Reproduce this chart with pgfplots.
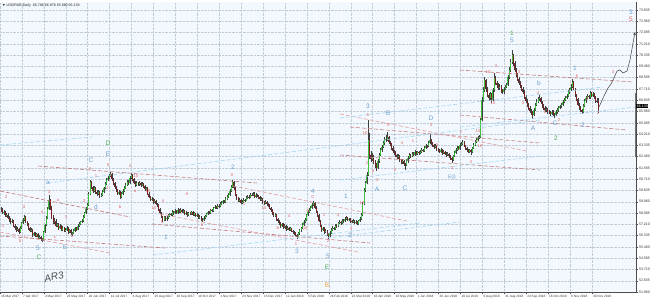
\documentclass[border=0pt]{standalone}
\usepackage{fontspec}
\setmainfont{Liberation Sans}
\usepackage{pgfplots}
\usepackage{pgfplotstable}
\pgfplotsset{compat=1.18}
\usetikzlibrary{arrows.meta}
\definecolor{bg}{HTML}{F2F8FD}
\definecolor{gridc}{HTML}{C2CCD6}
\definecolor{upc}{HTML}{3DBE3D}
\definecolor{dnc}{HTML}{7E1F1F}
\definecolor{wickc}{HTML}{404040}
\definecolor{pinkl}{HTML}{E3A0A0}
\definecolor{pinkd}{HTML}{C47C7C}
\definecolor{bluel}{HTML}{A8D6F2}
\definecolor{lblue}{HTML}{6F9FCC}
\definecolor{lgreen}{HTML}{4CAF50}
\definecolor{lorange}{HTML}{F0A030}
\definecolor{lred}{HTML}{E06060}
\pgfplotstableread{
o h l c
58.40 58.55 58.15 58.32
58.32 58.45 57.98 58.10
58.10 58.30 57.95 58.18
58.18 58.28 57.80 57.90
57.90 58.10 57.78 57.95
57.95 58.05 57.60 57.70
57.70 57.85 57.40 57.55
57.55 57.68 57.25 57.40
57.40 57.62 57.30 57.48
57.48 57.55 57.00 57.10
57.10 57.20 56.80 56.93
56.93 57.05 56.65 56.80
56.80 57.00 56.70 56.85
56.85 56.95 56.48 56.61
56.61 57.05 56.55 56.95
56.95 57.40 56.88 57.30
57.30 57.70 57.20 57.55
57.55 57.95 57.45 57.78
57.78 57.85 57.30 57.40
57.40 57.50 57.05 57.20
57.20 57.28 56.80 56.93
56.93 57.00 56.58 56.70
56.70 56.90 56.60 56.75
56.75 56.82 56.25 56.38
56.38 56.62 56.28 56.50
56.50 56.58 56.20 56.30
56.30 56.55 56.22 56.45
56.45 56.52 56.10 56.20
56.20 56.35 56.08 56.23
56.23 56.30 55.95 56.10
56.10 56.18 55.85 56.00
56.00 56.70 55.95 56.60
56.60 57.25 56.50 57.16
57.16 57.85 57.05 57.70
57.70 58.55 57.60 58.40
58.40 59.45 58.30 59.10
59.10 59.20 58.35 58.50
58.50 58.60 57.65 57.80
57.80 57.95 57.25 57.39
57.39 57.70 57.25 57.50
57.50 57.60 57.00 57.10
57.10 57.35 56.98 57.20
57.20 57.28 56.80 56.93
56.93 57.20 56.85 57.05
57.05 57.12 56.68 56.80
56.80 57.10 56.70 56.95
56.95 57.02 56.58 56.70
56.70 56.90 56.60 56.77
56.77 57.05 56.68 56.90
56.90 56.98 56.48 56.60
56.60 56.88 56.50 56.75
56.75 56.82 56.35 56.50
56.50 56.65 56.30 56.54
56.54 56.85 56.45 56.70
56.70 57.00 56.62 56.90
56.90 57.02 56.70 56.80
56.80 57.20 56.75 57.10
57.10 57.40 57.02 57.25
57.25 57.50 57.15 57.39
57.39 57.65 57.30 57.50
57.50 57.92 57.42 57.80
57.80 58.18 57.70 58.05
58.05 58.55 57.98 58.40
58.40 58.85 58.30 58.71
58.71 59.75 58.65 59.60
59.60 60.65 59.50 60.49
60.49 60.60 59.95 60.10
60.10 60.20 59.65 59.80
59.80 60.15 59.70 60.00
60.00 60.08 59.55 59.72
59.72 59.85 59.40 59.55
59.55 59.90 59.45 59.75
59.75 59.82 59.28 59.40
59.40 59.62 59.30 59.48
59.48 59.85 59.40 59.70
59.70 60.12 59.62 60.00
60.00 60.50 59.92 60.35
60.35 60.80 60.25 60.65
60.65 60.95 60.55 60.80
60.80 61.10 60.70 60.95
60.95 61.30 60.85 61.11
61.11 61.20 60.60 60.70
60.70 60.80 60.28 60.40
60.40 60.50 59.98 60.10
60.10 60.18 59.72 59.87
59.87 59.95 59.48 59.60
59.60 59.85 59.50 59.70
59.70 59.78 59.20 59.33
59.33 59.68 59.25 59.55
59.55 59.92 59.45 59.80
59.80 60.18 59.72 60.05
60.05 60.40 59.95 60.26
60.26 60.65 60.15 60.50
60.50 60.62 60.28 60.40
60.40 60.92 60.32 60.80
60.80 61.20 60.72 61.04
61.04 61.10 60.58 60.70
60.70 60.80 60.32 60.45
60.45 60.55 60.12 60.26
60.26 60.55 60.15 60.40
60.40 60.50 60.18 60.30
60.30 60.58 60.20 60.45
60.45 60.52 60.12 60.25
60.25 60.48 60.15 60.35
60.35 60.42 60.05 60.18
60.18 60.25 59.82 59.95
59.95 60.12 59.85 60.00
60.00 60.08 59.48 59.60
59.60 59.70 59.22 59.35
59.35 59.42 58.98 59.10
59.10 59.35 59.00 59.20
59.20 59.28 58.82 58.95
58.95 59.18 58.85 59.05
59.05 59.12 58.68 58.80
58.80 58.90 58.58 58.71
58.71 58.78 58.28 58.40
58.40 58.50 57.98 58.10
58.10 58.18 57.68 57.80
57.80 57.88 57.38 57.55
57.55 57.88 57.45 57.75
57.75 57.85 57.48 57.60
57.60 57.82 57.50 57.70
57.70 57.98 57.62 57.85
57.85 58.12 57.78 58.00
58.00 58.10 57.85 57.95
57.95 58.30 57.88 58.17
58.17 58.25 57.95 58.05
58.05 58.38 57.98 58.25
58.25 58.32 58.00 58.10
58.10 58.48 58.02 58.35
58.35 58.42 58.10 58.20
58.20 58.45 58.12 58.32
58.32 58.40 58.05 58.15
58.15 58.38 58.08 58.25
58.25 58.30 57.90 58.00
58.00 58.22 57.92 58.10
58.10 58.15 57.80 57.90
57.90 58.18 57.82 58.05
58.05 58.15 57.92 58.01
58.01 58.28 57.95 58.15
58.15 58.22 57.85 57.95
57.95 58.18 57.88 58.05
58.05 58.10 57.75 57.85
57.85 58.05 57.78 57.93
57.93 58.00 57.65 57.75
57.75 57.92 57.65 57.80
57.80 57.85 57.50 57.60
57.60 57.70 57.42 57.55
57.55 57.82 57.48 57.70
57.70 57.95 57.62 57.85
57.85 58.12 57.78 58.00
58.00 58.28 57.92 58.17
58.17 58.25 58.00 58.10
58.10 58.42 58.02 58.30
58.30 58.40 58.15 58.25
58.25 58.55 58.18 58.45
58.45 58.68 58.38 58.55
58.55 58.65 58.40 58.50
58.50 58.78 58.42 58.65
58.65 58.75 58.50 58.60
58.60 58.92 58.52 58.80
58.80 59.00 58.72 58.86
58.86 59.12 58.78 59.00
59.00 59.10 58.85 58.95
58.95 59.32 58.88 59.20
59.20 59.45 59.12 59.30
59.30 59.62 59.22 59.48
59.48 59.95 59.40 59.80
59.80 60.25 59.72 60.10
60.10 60.65 60.00 60.49
60.49 60.55 59.88 60.00
60.00 60.08 59.38 59.50
59.50 59.60 59.12 59.25
59.25 59.35 58.92 59.05
59.05 59.25 58.95 59.10
59.10 59.18 58.75 58.86
58.86 59.08 58.78 58.95
58.95 59.22 58.88 59.10
59.10 59.20 58.95 59.05
59.05 59.38 58.98 59.25
59.25 59.48 59.18 59.35
59.35 59.45 59.20 59.30
59.30 59.62 59.22 59.50
59.50 59.62 59.38 59.48
59.48 59.72 59.40 59.60
59.60 59.68 59.25 59.35
59.35 59.62 59.28 59.50
59.50 59.58 59.30 59.41
59.41 59.50 59.18 59.30
59.30 59.38 59.05 59.15
59.15 59.32 59.05 59.20
59.20 59.28 58.82 58.94
58.94 59.02 58.72 58.85
58.85 59.08 58.75 58.95
58.95 59.02 58.62 58.75
58.75 58.85 58.58 58.71
58.71 58.78 58.38 58.50
58.50 58.58 58.18 58.30
58.30 58.38 57.95 58.09
58.09 58.18 57.78 57.90
57.90 58.08 57.80 57.95
57.95 58.02 57.48 57.60
57.60 57.70 57.32 57.45
57.45 57.55 57.18 57.30
57.30 57.38 56.95 57.08
57.08 57.35 56.98 57.20
57.20 57.28 56.88 57.00
57.00 57.22 56.90 57.10
57.10 57.15 56.72 56.85
56.85 57.05 56.75 56.93
56.93 57.00 56.68 56.80
56.80 57.02 56.70 56.90
56.90 56.95 56.58 56.70
56.70 56.78 56.48 56.61
56.61 56.70 56.38 56.50
56.50 56.58 56.28 56.40
56.40 56.48 56.05 56.23
56.23 56.62 56.15 56.50
56.50 56.88 56.42 56.75
56.75 57.02 56.65 56.90
56.90 57.30 56.82 57.16
57.16 57.52 57.08 57.40
57.40 57.70 57.30 57.55
57.55 58.02 57.48 57.90
57.90 58.30 57.82 58.17
58.17 58.48 58.08 58.35
58.35 58.65 58.25 58.50
58.50 58.85 58.42 58.70
58.70 59.05 58.60 58.86
58.86 58.95 58.40 58.50
58.50 58.60 58.08 58.20
58.20 58.28 57.80 57.93
57.93 58.00 57.38 57.50
57.50 57.58 56.98 57.10
57.10 57.18 56.65 56.77
56.77 57.02 56.68 56.90
56.90 56.98 56.48 56.60
56.60 56.82 56.50 56.70
56.70 56.78 56.32 56.45
56.45 56.52 56.10 56.30
56.30 56.68 56.22 56.55
56.55 56.92 56.48 56.80
56.80 57.05 56.70 56.93
56.93 57.02 56.75 56.85
56.85 57.22 56.78 57.10
57.10 57.20 56.95 57.05
57.05 57.42 56.98 57.30
57.30 57.52 57.22 57.39
57.39 57.48 57.18 57.30
57.30 57.62 57.22 57.50
57.50 57.60 57.35 57.45
57.45 57.78 57.38 57.65
57.65 57.85 57.55 57.70
57.70 57.78 57.45 57.55
57.55 57.72 57.45 57.60
57.60 57.68 57.35 57.45
57.45 57.55 57.28 57.39
57.39 57.62 57.30 57.50
57.50 57.58 57.20 57.30
57.30 57.52 57.22 57.40
57.40 57.48 57.12 57.23
57.23 57.58 57.15 57.45
57.45 57.75 57.38 57.60
57.60 58.05 57.52 57.93
57.93 58.95 57.85 58.80
58.80 60.05 58.70 59.87
59.87 60.60 59.75 60.40
60.40 61.25 60.30 61.04
61.04 65.30 60.95 63.75
63.75 64.30 62.30 62.59
62.59 62.90 62.05 62.30
62.30 62.75 62.10 62.45
62.45 62.60 61.85 62.04
62.04 62.20 61.60 61.80
61.80 61.95 61.35 61.58
61.58 62.25 61.50 62.10
62.10 62.75 62.00 62.60
62.60 63.15 62.50 62.97
62.97 63.40 62.85 63.20
63.20 63.70 63.10 63.50
63.50 63.95 63.40 63.75
63.75 64.10 63.60 63.85
63.85 64.40 63.70 63.98
63.98 64.05 63.45 63.60
63.60 63.70 63.25 63.40
63.40 63.50 62.95 63.13
63.13 63.25 62.75 62.90
62.90 63.00 62.58 62.75
62.75 62.88 62.40 62.59
62.59 62.70 62.25 62.40
62.40 62.68 62.28 62.50
62.50 62.58 62.05 62.20
62.20 62.30 61.90 62.05
62.05 62.30 61.92 62.15
62.15 62.22 61.70 61.90
61.90 62.00 61.45 61.81
61.81 62.25 61.72 62.10
62.10 62.50 62.00 62.35
62.35 62.72 62.25 62.59
62.59 62.70 62.38 62.50
62.50 62.85 62.42 62.70
62.70 62.80 62.48 62.60
62.60 62.95 62.52 62.82
62.82 62.90 62.55 62.65
62.65 62.92 62.55 62.80
62.80 62.90 62.62 62.74
62.74 63.00 62.65 62.85
62.85 63.12 62.78 63.00
63.00 63.08 62.80 62.90
62.90 63.25 62.82 63.13
63.13 63.45 63.05 63.30
63.30 63.40 63.12 63.25
63.25 63.70 63.18 63.55
63.55 64.20 63.45 63.75
63.75 63.85 63.40 63.50
63.50 63.60 63.20 63.36
63.36 63.45 63.08 63.20
63.20 63.42 63.10 63.30
63.30 63.38 62.92 63.05
63.05 63.15 62.85 62.97
62.97 63.05 62.72 62.85
62.85 63.12 62.75 63.00
63.00 63.08 62.62 62.75
62.75 62.95 62.65 62.82
62.82 62.90 62.58 62.70
62.70 62.80 62.45 62.60
62.60 62.85 62.50 62.70
62.70 62.78 62.38 62.51
62.51 62.60 62.20 62.35
62.35 62.45 61.95 62.20
62.20 62.62 62.10 62.50
62.50 62.88 62.42 62.75
62.75 63.10 62.68 62.97
62.97 63.30 62.88 63.15
63.15 63.25 62.95 63.05
63.05 63.50 62.98 63.36
63.36 63.60 63.28 63.45
63.45 63.75 63.38 63.59
63.59 63.65 63.20 63.30
63.30 63.38 62.98 63.10
63.10 63.18 62.85 62.97
62.97 63.05 62.72 62.85
62.85 63.08 62.75 62.95
62.95 63.02 62.60 62.82
62.82 63.22 62.75 63.10
63.10 63.48 63.02 63.35
63.35 63.72 63.28 63.59
63.59 63.90 63.50 63.75
63.75 64.05 63.65 63.91
63.91 64.10 63.80 63.95
63.95 65.45 63.90 65.30
65.30 67.10 65.20 66.85
66.85 67.85 66.70 67.60
67.60 68.60 67.45 68.41
68.41 68.50 67.50 67.70
67.70 67.85 67.05 67.24
67.24 67.40 66.80 67.00
67.00 67.50 66.88 67.30
67.30 67.40 66.65 66.85
66.85 67.75 66.75 67.60
67.60 68.95 67.50 68.56
68.56 68.70 68.00 68.20
68.20 68.35 67.80 68.02
68.02 68.15 67.60 67.80
67.80 68.08 67.65 67.90
67.90 68.00 67.40 67.55
67.55 67.70 67.30 67.47
67.47 67.85 67.35 67.70
67.70 68.00 67.60 67.85
67.85 68.20 67.75 68.02
68.02 68.80 67.95 68.60
68.60 69.40 68.50 69.18
69.18 70.00 69.05 69.80
69.80 70.70 69.65 70.34
70.34 70.45 69.50 69.70
69.70 69.85 69.00 69.18
69.18 69.30 68.60 68.80
68.80 68.95 68.30 68.50
68.50 68.65 68.00 68.17
68.17 68.30 67.75 67.90
67.90 68.05 67.55 67.70
67.70 67.85 67.30 67.47
67.47 67.60 66.95 67.10
67.10 67.25 66.65 66.80
66.80 66.95 66.30 66.46
66.46 66.60 66.05 66.20
66.20 66.35 65.85 66.00
66.00 66.15 65.70 65.85
65.85 66.00 65.40 65.69
65.69 66.25 65.60 66.10
66.10 66.60 66.00 66.45
66.45 66.90 66.35 66.70
66.70 67.10 66.60 66.90
66.90 67.25 66.80 67.01
67.01 67.10 66.55 66.70
66.70 66.80 66.25 66.40
66.40 66.55 66.05 66.23
66.23 66.35 65.90 66.05
66.05 66.30 65.95 66.15
66.15 66.25 65.80 65.95
65.95 66.10 65.78 65.92
65.92 66.02 65.65 65.80
65.80 66.10 65.70 65.95
65.95 66.05 65.60 65.75
65.75 65.85 65.45 65.69
65.69 66.05 65.60 65.90
65.90 66.20 65.80 66.05
66.05 66.38 65.95 66.23
66.23 66.50 66.12 66.35
66.35 66.65 66.25 66.50
66.50 66.85 66.40 66.70
66.70 67.00 66.60 66.85
66.85 67.15 66.75 67.00
67.00 67.35 66.90 67.20
67.20 67.60 67.10 67.45
67.45 67.80 67.35 67.63
67.63 68.10 67.55 67.90
67.90 68.45 67.80 68.25
68.25 68.35 67.55 67.70
67.70 67.80 67.05 67.24
67.24 67.35 66.75 66.90
66.90 67.00 66.35 66.50
66.50 66.65 66.05 66.23
66.23 66.35 65.90 66.05
66.05 66.15 65.75 65.92
65.92 66.55 65.85 66.40
66.40 66.90 66.30 66.75
66.75 67.20 66.65 67.01
67.01 67.30 66.90 67.15
67.15 67.25 66.90 67.05
67.05 67.55 66.95 67.40
67.40 67.50 67.05 67.20
67.20 67.45 67.10 67.30
67.30 67.40 66.95 67.09
67.09 67.20 66.65 66.80
66.80 66.98 66.62 66.79
66.79 66.98 65.86 66.14
}\candles
\tikzset{
  wl/.style={font=\fontsize{6.5}{6.5}\selectfont, inner sep=0pt},
  sl/.style={font=\fontsize{4.2}{4.2}\selectfont, inner sep=0pt, text=lred},
  pk/.style={pinkd, dash pattern=on 4bp off 2bp, line width=0.6bp},
  pl/.style={pinkl, dash pattern=on 4bp off 2bp, line width=0.6bp},
  bl/.style={bluel, dash pattern=on 4bp off 2bp, line width=0.6bp},
}
\begin{document}
\begin{tikzpicture}
\begin{axis}[
  scale only axis, width=636bp, height=290bp,
  xmin=0, xmax=636, ymin=51.96, ymax=74.455,
  axis x line*=bottom, axis y line*=right,
  axis line style={draw=black!70, line width=0.5pt},
  axis background/.style={fill=bg},
  xtick={0,21.92,43.84,65.76,87.68,109.6,131.52,153.44,175.36,197.28,219.2,241.12,263.04,284.96,306.88,328.8,350.72,372.64,394.56,416.48,438.4,460.32,482.24,504.16,526.08,548,569.92,591.84},
  xticklabels={16 Mar 2017,7 Apr 2017,2 May 2017,26 May 2017,20 Jun 2017,12 Jul 2017,3 Aug 2017,25 Aug 2017,18 Sep 2017,10 Oct 2017,1 Nov 2017,23 Nov 2017,15 Dec 2017,12 Jan 2018,5 Feb 2018,28 Feb 2018,22 Mar 2018,16 Apr 2018,10 May 2018,1 Jun 2018,26 Jun 2018,18 Jul 2018,9 Aug 2018,31 Aug 2018,24 Sep 2018,16 Oct 2018,8 Nov 2018,30 Nov 2018},
  xticklabel style={anchor=north west, font=\fontsize{3.2}{3.4}\selectfont, text=black!80, inner sep=0.6bp, xshift=0.4bp},
  ytick={51.960,52.835,53.710,54.585,55.460,56.335,57.210,58.085,58.960,59.835,60.710,61.585,62.460,63.335,64.210,65.085,65.960,66.835,67.710,68.585,69.460,70.335,71.210,72.085,72.960,73.835},
  yticklabels={51.960,52.835,53.710,54.585,55.460,56.335,57.210,58.085,58.960,59.835,60.710,61.585,62.460,63.335,64.210,65.085,65.960,66.835,67.710,68.585,69.460,70.335,71.210,72.085,72.960,73.835},
  yticklabel pos=right,
  yticklabel style={anchor=west, font=\fontsize{3.6}{3.8}\selectfont, text=black!80, inner sep=0.8bp},
  tick align=outside, major tick length=2bp,
  tick style={black!70, line width=0.4pt},
  grid=major, grid style={gridc, densely dotted, line width=0.4pt},
]
% wicks
\addplot[draw=none, mark=none, forget plot,
  error bars/.cd, y dir=plus, y explicit, error mark=none,
  error bar style={draw=wickc, solid, line width=0.4bp}]
  table[x expr=\coordindex*1.37+1, y=l, y error expr=\thisrow{h}-\thisrow{l}] {\candles};
% up bodies
\addplot[draw=none, mark=none, forget plot,
  error bars/.cd, y dir=plus, y explicit, error mark=none,
  error bar style={draw=upc, solid, line width=1bp}]
  table[x expr=\coordindex*1.37+1, y expr={\thisrow{c}>=\thisrow{o} ? \thisrow{o} : nan}, y error expr=\thisrow{c}-\thisrow{o}] {\candles};
% down bodies
\addplot[draw=none, mark=none, forget plot,
  error bars/.cd, y dir=plus, y explicit, error mark=none,
  error bar style={draw=dnc, solid, line width=1bp}]
  table[x expr=\coordindex*1.37+1, y expr={\thisrow{c}<\thisrow{o} ? \thisrow{c} : nan}, y error expr=\thisrow{o}-\thisrow{c}] {\candles};
\end{axis}
% overlay axis in pixel units for channel lines and wave labels
\begin{axis}[scale only axis, width=636bp, height=290bp,
  xmin=0, xmax=636, ymin=2, ymax=292, y dir=reverse, hide axis, clip=false]
\addplot[pk] coordinates {(0,191) (130,217)};
\addplot[pl] coordinates {(0,232) (110,253)};
\addplot[pk] coordinates {(0,236) (165,248)};
\addplot[pk] coordinates {(38,166) (257,183)};
\addplot[pk] coordinates {(152,224) (370,243)};
\addplot[pl] coordinates {(160,214) (358,252)};
\addplot[pl] coordinates {(233,186) (407,221)};
\addplot[pk] coordinates {(350,127) (540,143)};
\addplot[pl] coordinates {(340,114) (527,151)};
\addplot[pk] coordinates {(340,155) (540,170)};
\addplot[pk] coordinates {(460,70) (633,82)};
\addplot[pk] coordinates {(460,115) (627,130)};
\addplot[bl] coordinates {(0,145) (92,137)};
\addplot[bl] coordinates {(48,183) (540,120)};
\addplot[bl] coordinates {(153,255) (420,223)};
\addplot[bl] coordinates {(327,238) (460,222)};
\addplot[bl] coordinates {(340,180) (540,156)};
\addplot[bl] coordinates {(340,118) (603,87)};
\addplot[bl] coordinates {(460,127) (636,107)};
% forecast path
\addplot[black!75, line width=0.5bp, -{Stealth[length=3bp,width=2.5bp]}] coordinates {(599,107) (604,96) (608,88) (611,84) (613,80) (617,71) (620,70) (623,73) (627,71) (630,60) (635,32)};
% right-axis marker
\addplot[black!55, line width=1.8bp] coordinates {(635.5,93) (635.5,157)};
% header, price box, signature
\node[anchor=west, font=\fontsize{3.6}{3.8}\selectfont, text=black!85, inner sep=0pt] at (axis cs:2,6) {▼ USDRUB,Daily \ 66.786 66.978 65.860 66.139};
\node[anchor=west, fill=black, text=white, font=\fontsize{3.6}{3.8}\selectfont, inner sep=0.6bp] at (axis cs:636,106) {66.139};
\node[font=\fontsize{10}{10}\selectfont\itshape, text=black!70, rotate=12] at (axis cs:54,277) {AR3};
% main wave labels
\node[wl, text=lgreen] at (axis cs:39,257) {C};
\node[wl, text=lblue] at (axis cs:38,248) {5};
\node[wl, text=lblue] at (axis cs:65,247) {b};
\node[wl, text=lblue] at (axis cs:48,183) {a};
\node[wl, text=lgreen] at (axis cs:108,143) {D};
\node[wl, text=lblue] at (axis cs:108,154) {E};
\node[wl, text=lblue] at (axis cs:91,160) {C};
\node[wl, text=lblue] at (axis cs:96,207) {d};
\node[wl, text=lblue] at (axis cs:166,237) {1};
\node[wl, text=lblue] at (axis cs:233,167) {2};
\node[wl, text=lblue] at (axis cs:297,251) {3};
\node[wl, text=lblue] at (axis cs:313,191) {4};
\node[wl, text=lblue] at (axis cs:328,256) {5};
\node[wl, text=lgreen] at (axis cs:327,267) {E};
\node[wl, text=lorange] at (axis cs:327,285) {B};
\node[wl, text=lblue] at (axis cs:346,196) {1};
\node[wl, text=lblue] at (axis cs:350,235) {2};
\node[wl, text=lblue] at (axis cs:377,189) {A};
\node[wl, text=lblue] at (axis cs:405,188) {C};
\node[wl, text=lblue] at (axis cs:368,106) {3};
\node[wl, text=lblue] at (axis cs:388,113) {B};
\node[wl, text=lblue] at (axis cs:431,118) {D};
\node[wl, text=lblue, font=\fontsize{5}{5}\selectfont] at (axis cs:452,177) {E(i)};
\node[wl, text=lgreen] at (axis cs:512,33) {1};
\node[wl, text=lblue] at (axis cs:512,40) {5};
\node[wl, text=lblue] at (axis cs:539,83) {b};
\node[wl, text=lblue] at (axis cs:533,128) {A};
\node[wl, text=lblue] at (axis cs:555,123) {C};
\node[wl, text=lgreen] at (axis cs:556,138) {2};
\node[wl, text=lblue] at (axis cs:575,68) {1};
\node[wl, text=lblue] at (axis cs:583,125) {2};
\node[wl, text=lblue] at (axis cs:631,12) {3};
\node[wl, text=lred] at (axis cs:631,19) {5};
% small sub-wave labels
\node[sl] at (axis cs:6,197) {2};
\node[sl] at (axis cs:3,226) {1};
\node[sl] at (axis cs:24,207) {4};
\node[sl] at (axis cs:49,192) {3};
\node[sl] at (axis cs:20,241) {5};
\node[sl] at (axis cs:42,212) {4};
\node[sl] at (axis cs:58,200) {a};
\node[sl] at (axis cs:66,217) {1};
\node[sl] at (axis cs:55,237) {c};
\node[sl] at (axis cs:72,236) {2};
\node[sl] at (axis cs:84,201) {3};
\node[sl] at (axis cs:90,169) {3};
\node[sl] at (axis cs:108,165) {5};
\node[sl] at (axis cs:96,176) {1};
\node[sl] at (axis cs:107,188) {4};
\node[sl] at (axis cs:130,166) {2};
\node[sl] at (axis cs:136,176) {10};
\node[sl] at (axis cs:120,207) {b};
\node[sl] at (axis cs:135,191) {a};
\node[sl] at (axis cs:148,191) {10};
\node[sl] at (axis cs:163,201) {4};
\node[sl] at (axis cs:154,208) {10};
\node[sl] at (axis cs:162,222) {5};
\node[sl] at (axis cs:187,194) {A};
\node[sl] at (axis cs:202,225) {b};
\node[sl] at (axis cs:232,175) {0};
\node[sl] at (axis cs:244,204) {1};
\node[sl] at (axis cs:264,208) {10};
\node[sl] at (axis cs:289,216) {4};
\node[sl] at (axis cs:278,228) {iii};
\node[sl] at (axis cs:305,228) {(ii)};
\node[sl] at (axis cs:313,197) {C};
\node[sl] at (axis cs:308,211) {iii};
\node[sl] at (axis cs:324,215) {1};
\node[sl] at (axis cs:338,215) {4};
\node[sl] at (axis cs:351,229) {3};
\node[sl] at (axis cs:362,203) {10};
\node[sl] at (axis cs:328,241) {2};
\node[sl] at (axis cs:296,244) {1};
\node[sl] at (axis cs:368,115) {5};
\node[sl] at (axis cs:365,133) {10};
\node[sl] at (axis cs:367,163) {2};
\node[sl] at (axis cs:373,171) {4};
\node[sl] at (axis cs:377,180) {3};
\node[sl] at (axis cs:388,125) {3};
\node[sl] at (axis cs:390,158) {1};
\node[sl] at (axis cs:402,143) {4};
\node[sl] at (axis cs:413,141) {1};
\node[sl] at (axis cs:395,170) {2};
\node[sl] at (axis cs:431,125) {3};
\node[sl] at (axis cs:437,145) {3};
\node[sl] at (axis cs:452,168) {3};
\node[sl] at (axis cs:461,132) {1};
\node[sl] at (axis cs:478,131) {10};
\node[sl] at (axis cs:471,162) {2};
\node[sl] at (axis cs:480,146) {10};
\node[sl] at (axis cs:488,72) {10};
\node[sl] at (axis cs:493,103) {10};
\node[sl] at (axis cs:496,66) {3};
\node[sl] at (axis cs:519,72) {3};
\node[sl] at (axis cs:523,103) {3};
\node[sl] at (axis cs:538,93) {4};
\node[sl] at (axis cs:545,112) {1};
\node[sl] at (axis cs:559,120) {2};
\node[sl] at (axis cs:577,76) {5};
\node[sl] at (axis cs:587,99) {3};
\node[sl] at (axis cs:598,113) {2};
\node[sl] at (axis cs:613,72) {3};
\end{axis}
\pgfresetboundingbox
\path (0bp,-8bp) rectangle (650bp,292bp);
\end{tikzpicture}
\end{document}
